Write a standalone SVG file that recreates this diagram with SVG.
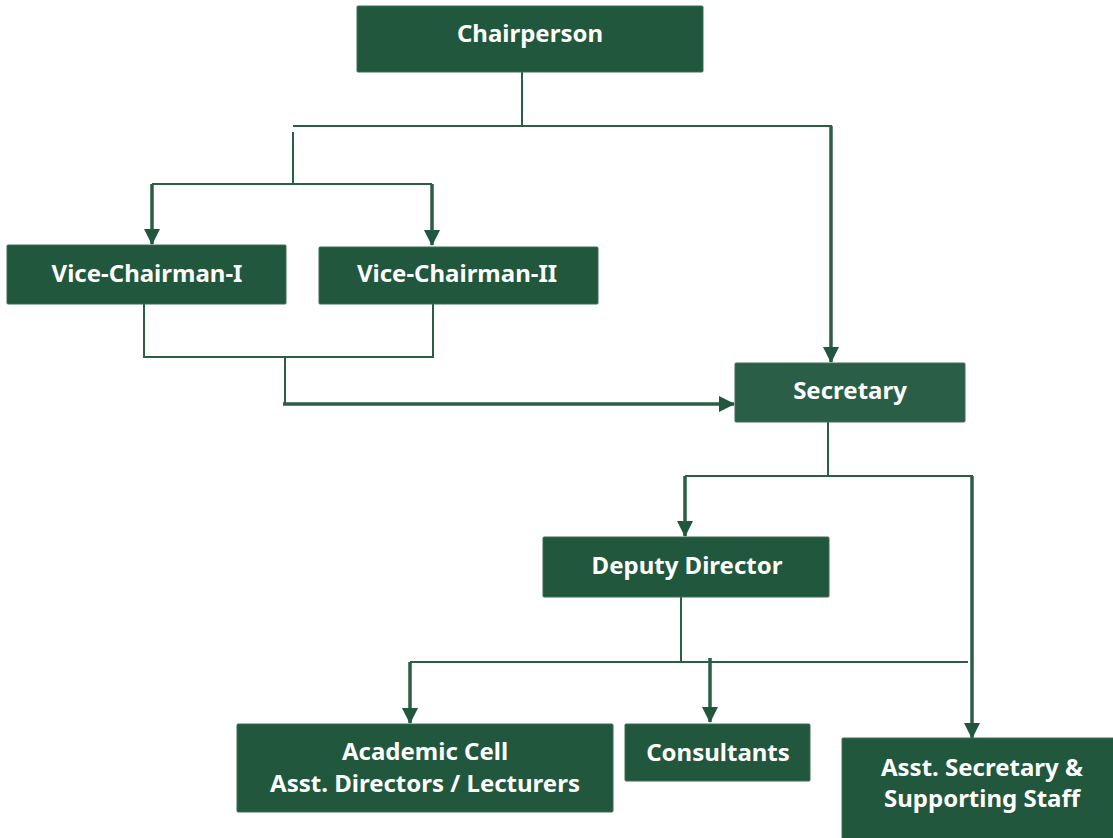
<svg xmlns="http://www.w3.org/2000/svg" width="1113" height="838" viewBox="0 0 1113 838">
<style>
.box{fill:#21573d;stroke:#3d6e55;stroke-width:1}
.sec{fill:#2b5e47;stroke:#3d6e55;stroke-width:1}
.t{font-family:"Noto Sans","Open Sans",sans-serif;font-weight:bold;font-size:24px;fill:#ffffff;text-anchor:middle}
.thin{fill:none;stroke:#2b5e45;stroke-width:2}
.thick{fill:none;stroke:#2b5e45;stroke-width:3.5}
</style>
<defs>
<marker id="ah" viewBox="0 0 16 16" refX="15" refY="8" markerWidth="16" markerHeight="16" markerUnits="userSpaceOnUse" orient="auto">
<path d="M0,0 L16,8 L0,16 Z" fill="#21573d"/>
</marker>
</defs>
<rect width="1113" height="838" fill="#ffffff"/>
<g id="connectors">
<path class="thin" d="M522,72 V126 M293,126 H832 M293,132 V184 M152,184 H432"/>
<path class="thick" d="M152,184 V244" marker-end="url(#ah)"/>
<path class="thick" d="M432,184 V245" marker-end="url(#ah)"/>
<path class="thick" d="M831,126 V362" marker-end="url(#ah)"/>
<path class="thin" d="M144,304 V358 M433,304 V358 M144,357 H433 M285,357 V404"/>
<path class="thick" d="M283,404 H734" marker-end="url(#ah)"/>
<path class="thin" d="M828,422 V476 M685,476 H973"/>
<path class="thick" d="M685,476 V536" marker-end="url(#ah)"/>
<path class="thick" d="M972,476 V738" marker-end="url(#ah)"/>
<path class="thin" d="M681,597 V662 M410,662 H968"/>
<path class="thick" d="M410,662 V723" marker-end="url(#ah)"/>
<path class="thick" d="M710,658 V722" marker-end="url(#ah)"/>
</g>
<g id="chairperson">
<rect class="box" x="357" y="6" width="346" height="66" rx="1"/>
<text class="t" x="530" y="42">Chairperson</text>
</g>
<g id="vice-chairman-1">
<rect class="box" x="7" y="245" width="279" height="59" rx="1"/>
<text class="t" x="147" y="282">Vice-Chairman-I</text>
</g>
<g id="vice-chairman-2">
<rect class="box" x="319" y="247" width="279" height="57" rx="1"/>
<text class="t" x="457" y="282">Vice-Chairman-II</text>
</g>
<g id="secretary">
<rect class="sec" x="735" y="363" width="230" height="59" rx="1"/>
<text class="t" x="850" y="399">Secretary</text>
</g>
<g id="deputy-director">
<rect class="box" x="543" y="537" width="286" height="60" rx="1"/>
<text class="t" x="687" y="574">Deputy Director</text>
</g>
<g id="academic-cell">
<rect class="box" x="237" y="724" width="376" height="88" rx="1"/>
<text class="t" x="425" y="760">Academic Cell</text>
<text class="t" x="425" y="792">Asst. Directors / Lecturers</text>
</g>
<g id="consultants">
<rect class="box" x="625" y="724" width="185" height="57" rx="1"/>
<text class="t" x="718" y="761">Consultants</text>
</g>
<g id="asst-secretary">
<rect class="box" x="842" y="738" width="275" height="104" rx="1"/>
<text class="t" x="982" y="776">Asst. Secretary &amp;</text>
<text class="t" x="982" y="807">Supporting Staff</text>
</g>
</svg>
